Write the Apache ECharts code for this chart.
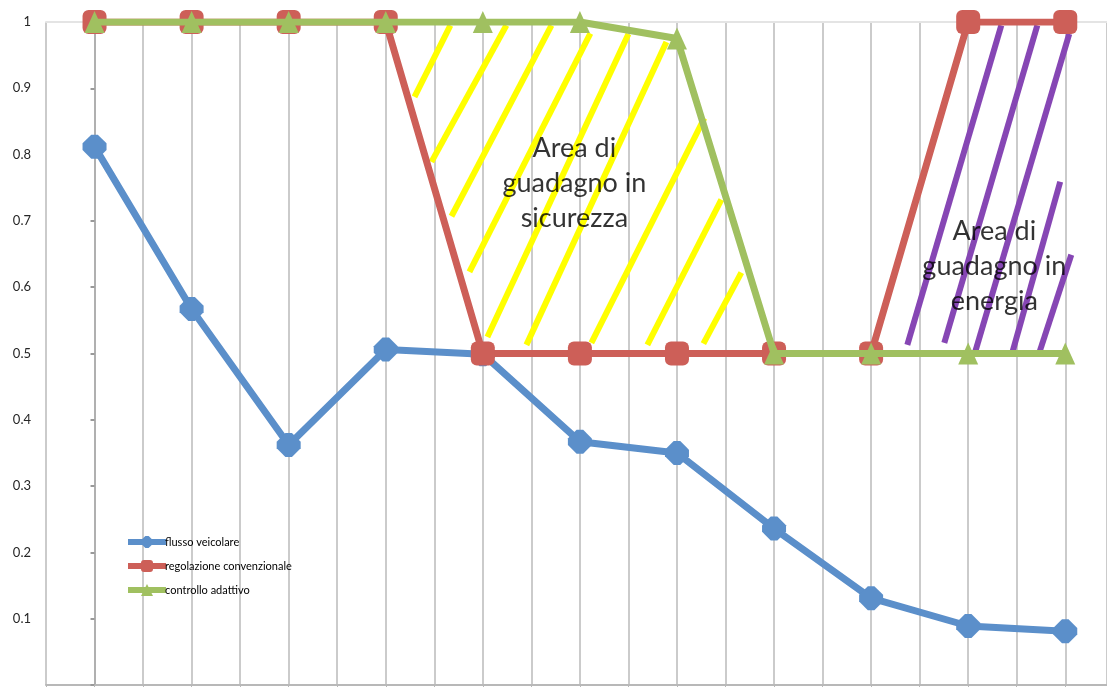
<!DOCTYPE html>
<html>
<head>
<meta charset="utf-8">
<script src="https://cdn.jsdelivr.net/npm/echarts@6/dist/echarts.min.js"></script>
<style>
  html, body { margin: 0; padding: 0; background: #ffffff; }
  #chart { width: 1107px; height: 687px; }
</style>
</head>
<body>
<div id="chart"></div>
<script>
// Time steps 0..10 along the horizontal axis
const steps = [0, 1, 2, 3, 4, 5, 6, 7, 8, 9, 10];

// Series values (normalised 0..1)
const flussoVeicolare = [0.812, 0.567, 0.362, 0.506, 0.499, 0.367, 0.350, 0.236, 0.131, 0.089, 0.081];
const regolazioneConvenzionale = [1, 1, 1, 1, 0.5, 0.5, 0.5, 0.5, 0.5, 1, 1];
const controlloAdattivo = [1, 1, 1, 1, 1, 1, 0.975, 0.5, 0.5, 0.5, 0.5];

const seriesNames = ['flusso veicolare', 'regolazione convenzionale', 'controllo adattivo'];

// Y-axis tick values
const yTicks = [0.1, 0.2, 0.3, 0.4, 0.5, 0.6, 0.7, 0.8, 0.9, 1];

// Hatching strokes in data coordinates: [[xStart, yStart], [xEnd, yEnd]]
const hatchSicurezza = [
  [[3.666, 0.995], [3.296, 0.887]],
  [[4.243, 0.995], [3.471, 0.789]],
  [[4.707, 0.995], [3.677, 0.707]],
  [[5.108, 0.983], [3.862, 0.623]],
  [[5.500, 0.982], [4.047, 0.525]],
  [[5.891, 0.970], [4.449, 0.513]],
  [[6.282, 0.855], [5.118, 0.516]],
  [[6.457, 0.732], [5.695, 0.513]],
  [[6.663, 0.622], [6.272, 0.515]]
];
const hatchEnergia = [
  [[9.341, 0.995], [8.373, 0.513]],
  [[9.712, 0.995], [8.754, 0.516]],
  [[10.041, 0.982], [9.063, 0.498]],
  [[9.948, 0.759], [9.454, 0.501]],
  [[10.062, 0.649], [9.732, 0.501]]
];

// Annotation labels anchored at data coordinates
const annotations = [
  { text: 'Area di\nguadagno in\nsicurezza', at: [4.943, 0.757] },
  { text: 'Area di\nguadagno in\nenergia', at: [9.269, 0.632] }
];

const colors = ['#5b8fca', '#cd5f58', '#a0c060'];
const FONT = 'Lato, "Liberation Sans", sans-serif';

// Rounded diamond marker
const DIAMOND = 'path://M-3,-11 L3,-11 L11,-3 L11,3 L3,11 L-3,11 L-11,3 L-11,-3 Z';

const pairs = (vals) => steps.map((s, i) => [s, vals[i]]);

const chart = echarts.init(document.getElementById('chart'), null, { renderer: 'canvas' });

chart.setOption({
  animation: false,
  backgroundColor: '#ffffff',
  textStyle: { fontFamily: FONT },
  grid: { left: 46, top: 22, right: 0, height: 663, containLabel: false },
  legend: {
    orient: 'vertical',
    left: 120,
    top: 531,
    itemWidth: 38,
    itemHeight: 15,
    itemGap: 12,
    data: seriesNames,
    lineStyle: { width: 6 },
    textStyle: { fontFamily: FONT, fontSize: 11, color: '#000000', padding: [0, 0, 0, -6] }
  },
  xAxis: [
    {
      type: 'value',
      min: -0.5,
      max: 10.43,
      interval: 0.5,
      axisLabel: { show: false },
      axisLine: { show: true, onZero: false, lineStyle: { color: '#b8b8b8', width: 2 } },
      axisTick: { show: true, length: 4, lineStyle: { color: '#b8b8b8' } },
      splitLine: { show: true, lineStyle: { color: '#cbcbcb', width: 2 } }
    },
    {
      type: 'value',
      position: 'top',
      min: -0.5,
      max: 10.43,
      axisLabel: { show: false },
      axisTick: { show: false },
      splitLine: { show: false },
      axisLine: { show: true, onZero: false, lineStyle: { color: '#e4e4e4', width: 2 } }
    }
  ],
  yAxis: {
    type: 'value',
    min: 0,
    max: 1,
    interval: 0.1,
    axisLine: { show: true, lineStyle: { color: '#b0b0b0', width: 2 } },
    axisTick: { show: true, length: 4, lineStyle: { color: '#999999', width: 2 } },
    splitLine: { show: false },
    axisLabel: {
      margin: 15,
      fontSize: 13,
      color: '#262626',
      fontFamily: FONT,
      formatter: (v) => {
        const t = yTicks.find((k) => Math.abs(k - v) < 1e-6);
        return t === undefined ? '' : String(t);
      }
    }
  },
  series: [
    {
      type: 'lines',
      coordinateSystem: 'cartesian2d',
      silent: true,
      z: 1,
      lineStyle: { color: '#ffff00', width: 6, opacity: 1 },
      data: hatchSicurezza.map((c) => ({ coords: c }))
    },
    {
      type: 'lines',
      coordinateSystem: 'cartesian2d',
      silent: true,
      z: 1,
      lineStyle: { color: '#8646b4', width: 6, opacity: 1 },
      data: hatchEnergia.map((c) => ({ coords: c }))
    },
    {
      name: seriesNames[0],
      type: 'line',
      z: 3,
      data: pairs(flussoVeicolare),
      symbol: DIAMOND,
      symbolSize: [24, 24],
      itemStyle: { color: colors[0] },
      lineStyle: { color: colors[0], width: 7 }
    },
    {
      name: seriesNames[1],
      type: 'line',
      z: 4,
      data: pairs(regolazioneConvenzionale),
      symbol: 'roundRect',
      symbolSize: [24, 24],
      itemStyle: { color: colors[1] },
      lineStyle: { color: colors[1], width: 7 }
    },
    {
      name: seriesNames[2],
      type: 'line',
      z: 5,
      data: pairs(controlloAdattivo),
      symbol: 'triangle',
      symbolSize: [20, 22],
      itemStyle: { color: colors[2] },
      lineStyle: { color: colors[2], width: 7 }
    },
    {
      type: 'scatter',
      silent: true,
      z: 10,
      symbolSize: 0,
      data: annotations.map((a) => ({ value: a.at, name: a.text })),
      label: {
        show: true,
        position: 'inside',
        formatter: (p) => p.name,
        fontFamily: FONT,
        fontSize: 27,
        lineHeight: 35,
        color: '#000000',
        align: 'center',
        verticalAlign: 'middle'
      }
    }
  ]
});
</script>
</body>
</html>
